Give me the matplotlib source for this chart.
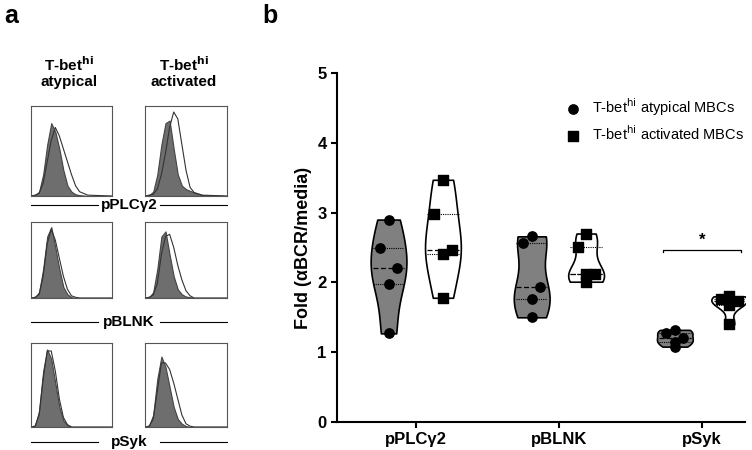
import matplotlib.pyplot as plt
import numpy as np

plt.rcParams['font.family'] = 'Liberation Sans'

# ---- panel b data ----
categories = ['pPLCγ2', 'pBLNK', 'pSyk']
atypical = [
    [2.90, 2.50, 2.20, 1.98, 1.27],
    [2.66, 2.57, 1.94, 1.76, 1.50],
    [1.32, 1.28, 1.20, 1.15, 1.08],
]
activated = [
    [3.47, 2.98, 2.46, 2.40, 1.78],
    [2.70, 2.51, 2.12, 2.12, 2.01],
    [1.80, 1.76, 1.74, 1.68, 1.40],
]
yticks = [0, 1, 2, 3, 4, 5]

# ---- panel a histograms (relative height vs. fluorescence, 0..1) ----
hist_x = [0.0, 0.05, 0.1, 0.15, 0.2, 0.25, 0.3, 0.35, 0.4, 0.45, 0.5, 0.55, 0.6, 0.7, 1.0]
hist_shaded = [
    [0, 0.01, 0.05, 0.25, 0.60, 0.85, 0.75, 0.55, 0.30, 0.12, 0.05, 0.02, 0.01, 0, 0],
    [0, 0.01, 0.05, 0.25, 0.60, 0.85, 0.88, 0.55, 0.25, 0.12, 0.08, 0.06, 0.04, 0.01, 0],
    [0, 0.01, 0.08, 0.40, 0.85, 0.98, 0.70, 0.40, 0.15, 0.05, 0.01, 0, 0, 0, 0],
    [0, 0.01, 0.08, 0.40, 0.85, 0.92, 0.60, 0.30, 0.12, 0.05, 0.02, 0.01, 0, 0, 0],
    [0, 0.02, 0.20, 0.70, 0.97, 0.85, 0.55, 0.25, 0.08, 0.02, 0, 0, 0, 0, 0],
    [0, 0.02, 0.15, 0.60, 0.88, 0.75, 0.50, 0.25, 0.10, 0.04, 0.01, 0, 0, 0, 0],
]
hist_open = [
    [0, 0.01, 0.03, 0.15, 0.40, 0.65, 0.80, 0.70, 0.55, 0.40, 0.25, 0.12, 0.05, 0.01, 0],
    [0, 0.01, 0.02, 0.08, 0.25, 0.50, 0.80, 0.98, 0.90, 0.60, 0.30, 0.10, 0.04, 0.01, 0],
    [0, 0.01, 0.05, 0.30, 0.75, 0.95, 0.80, 0.55, 0.30, 0.12, 0.03, 0.01, 0, 0, 0],
    [0, 0.01, 0.04, 0.20, 0.60, 0.85, 0.88, 0.70, 0.45, 0.25, 0.10, 0.03, 0, 0, 0],
    [0, 0.01, 0.15, 0.60, 0.95, 0.95, 0.70, 0.35, 0.12, 0.03, 0, 0, 0, 0, 0],
    [0, 0.01, 0.10, 0.45, 0.80, 0.80, 0.72, 0.55, 0.35, 0.15, 0.04, 0.01, 0, 0, 0],
]
markers = ['pPLCγ2', 'pBLNK', 'pSyk']

W, H = 752, 450
fig = plt.figure(figsize=(7.52, 4.5), dpi=100)

def box(x0, y0, x1, y1):
    return [x0 / W, 1 - y1 / H, (x1 - x0) / W, (y1 - y0) / H]

# ---- panel a ----
col_x = [(31, 112), (145, 227)]
row_y = [(106, 196), (222, 298), (343, 427)]
label_y = [205, 322, 442]
k = 0
for r in range(3):
    for c in range(2):
        ax = fig.add_axes(box(col_x[c][0], row_y[r][0], col_x[c][1], row_y[r][1]))
        ax.fill_between(hist_x, hist_shaded[k], color='#6e6e6e', lw=0.8, edgecolor='#444444')
        ax.plot(hist_x, hist_open[k], color='#333333', lw=0.8)
        ax.set_xlim(0, 1)
        ax.set_ylim(0, 1.05)
        ax.set_xticks([])
        ax.set_yticks([])
        for s in ax.spines.values():
            s.set_linewidth(0.8)
            s.set_color('#555555')
        k += 1
    yl = 1 - label_y[r] / H
    fig.text(129 / W, yl, markers[r], ha='center', va='center', fontsize=11, fontweight='bold')
    fig.add_artist(plt.Line2D([31 / W, 98 / W], [yl, yl], color='black', lw=0.8))
    fig.add_artist(plt.Line2D([160 / W, 227 / W], [yl, yl], color='black', lw=0.8))

fig.text(69 / W, 1 - 72 / H, 'T-bet$^{\\mathbf{hi}}$\natypical', ha='center', va='center',
         fontsize=11, fontweight='bold', linespacing=1.1)
fig.text(184 / W, 1 - 72 / H, 'T-bet$^{\\mathbf{hi}}$\nactivated', ha='center', va='center',
         fontsize=11, fontweight='bold', linespacing=1.1)
fig.text(4 / W, 1 - 16 / H, 'a', fontsize=18, fontweight='bold', va='center')
fig.text(262 / W, 1 - 16 / H, 'b', fontsize=18, fontweight='bold', va='center')

# ---- panel b ----
ax = fig.add_axes(box(337, 73, 745, 422))
pos = np.arange(len(categories))
off = 0.19

def violins(data, xs, face):
    vp = ax.violinplot(data, positions=xs, widths=0.25, showextrema=False, bw_method=0.6)
    for b in vp['bodies']:
        b.set_facecolor(face)
        b.set_edgecolor('black')
        b.set_linewidth(1.2)
        b.set_alpha(1)
    for d, x in zip(data, xs):
        q1, med, q3 = np.percentile(d, [25, 50, 75])
        ax.hlines(med, x - 0.11, x + 0.11, colors='black', linestyles=(0, (4, 2)), lw=0.9, zorder=3)
        ax.hlines([q1, q3], x - 0.11, x + 0.11, colors='black', linestyles=(0, (1, 1)), lw=0.8, zorder=3)

violins(atypical, pos - off, '#808080')
violins(activated, pos + off, 'white')

spread = [0, -0.06, 0.06, 0, 0]
for i in range(3):
    ax.scatter(pos[i] - off + np.array(spread), atypical[i], marker='o', s=45, color='black', zorder=4)
    ax.scatter(pos[i] + off + np.array(spread), activated[i], marker='s', s=45, color='black', zorder=4)

ax.scatter([], [], marker='o', s=45, color='black', label='T-bet$^{\\rm hi}$ atypical MBCs')
ax.scatter([], [], marker='s', s=45, color='black', label='T-bet$^{\\rm hi}$ activated MBCs')
ax.legend(loc='upper right', frameon=False, fontsize=10.5, handletextpad=0.3,
          bbox_to_anchor=(1.03, 0.97), labelspacing=0.4)

# significance bracket
ax.plot([pos[2] - 0.27, pos[2] - 0.27, pos[2] + 0.27, pos[2] + 0.27],
        [2.43, 2.47, 2.47, 2.43], color='black', lw=0.9)
ax.text(pos[2], 2.5, '*', ha='center', va='bottom', fontsize=12, fontweight='bold')

ax.set_ylim(0, 5)
ax.set_xlim(-0.55, 2.3)
ax.set_yticks(yticks)
ax.set_xticks(pos)
ax.set_xticklabels(categories, fontsize=12, fontweight='bold')
ax.tick_params(axis='y', labelsize=12, width=1.5, length=4)
ax.tick_params(axis='x', width=1.5, length=4)
for t in ax.get_yticklabels():
    t.set_fontweight('bold')
ax.set_ylabel('Fold (αBCR/media)', fontsize=13, fontweight='bold')
for s in ['top', 'right']:
    ax.spines[s].set_visible(False)
for s in ['left', 'bottom']:
    ax.spines[s].set_linewidth(1.5)

fig.savefig('out.png', dpi=100)
